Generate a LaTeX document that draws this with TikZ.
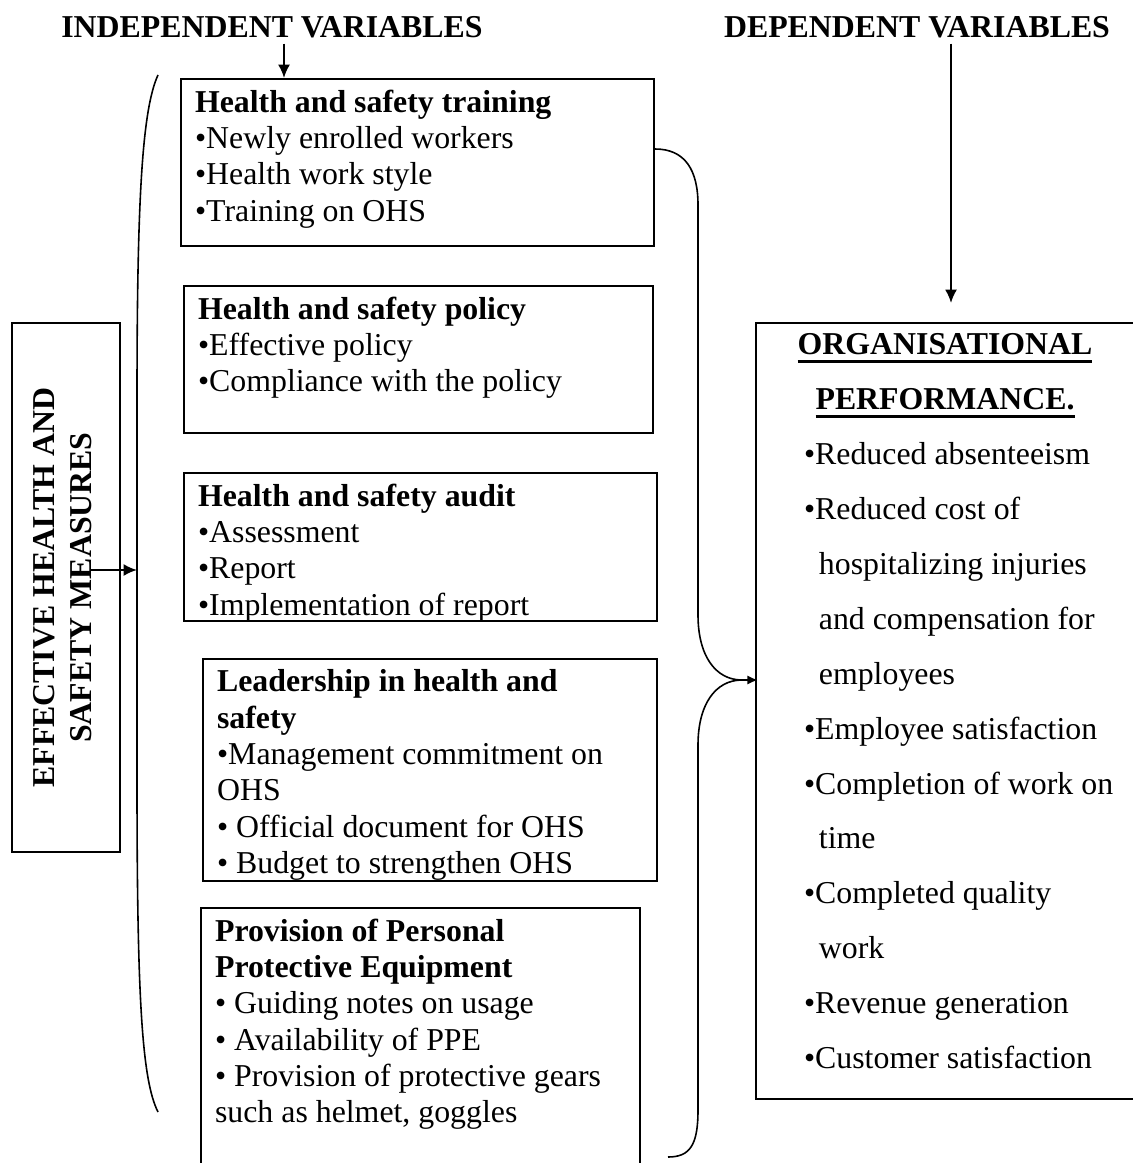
\documentclass[tikz,border=0pt]{standalone}
\usepackage{fontspec}
\setmainfont{Liberation Serif}
\usetikzlibrary{arrows.meta}

\newdimen\pxu
\pxu=0.377pt
\newcommand{\boxtext}[3]{\parbox[t][#2\pxu][t]{#1\pxu}{\raggedright #3}}
\newcommand{\orgul}[1]{\setbox0=\hbox{#1}\rlap{\rule[-3.2pt]{\wd0}{1.1pt}}\box0}

\begin{document}
\begin{tikzpicture} [
    x=\pxu, y=-\pxu,
    box/.style      = { rectangle, draw, line width=0.8pt, anchor=north west,
                        inner xsep=14\pxu, inner ysep=4pt,
                        font=\fontsize{12}{13.7}\selectfont },
    head/.style     = { font=\bfseries\fontsize{12}{14}\selectfont, inner sep=2pt },
    line/.style     = { draw, line width=0.8pt, -{Latex[length=5pt,width=4.5pt]} },
    brace/.style    = { draw, line width=0.6pt },
  ]
  \useasboundingbox (0,0) rectangle (1133,1163);

  % Define the headings
  \node[head] (indep) at (272,27) {INDEPENDENT VARIABLES};
  \node[head] (dep)   at (917,27) {DEPENDENT VARIABLES};

  % Define the boxes
  \node[box, rotate=90, anchor=center, align=center, inner sep=0pt,
        font=\bfseries\fontsize{12}{14}\selectfont,
        minimum width=529\pxu, minimum height=108\pxu] (ehsm) at (66,587.5)
        {EFFECTIVE HEALTH AND\\SAFETY MEASURES\vphantom{g}};

  \node[box] (train) at (180,78) {\boxtext{445}{146}{%
    \textbf{Health and safety training}\\
    •Newly enrolled workers\\
    •Health work style\\
    •Training on OHS}};
  \node[box] (policy) at (183,285) {\boxtext{441}{126}{%
    \textbf{Health and safety policy}\\
    •Effective policy\\
    •Compliance with the policy}};
  \node[box] (audit) at (183,472) {\boxtext{445}{127}{%
    \textbf{Health and safety audit}\\
    •Assessment\\
    •Report\\
    •Implementation of report}};
  \node[box] (lead) at (202,658) {\boxtext{426}{201}{%
    \textbf{Leadership in health and}\\
    \textbf{safety}\\
    •Management commitment on\\
    OHS\\
    • Official document for OHS\\
    • Budget to strengthen OHS}};
  \node[box] (ppe) at (200,907) {\boxtext{411}{259}{%
    \textbf{Provision of Personal}\\
    \textbf{Protective Equipment}\\
    • Guiding notes on usage\\
    • Availability of PPE\\
    • Provision of protective gears\\
    such as helmet, goggles}};

  \node[box, inner xsep=48\pxu] (org) at (755,322) {\boxtext{340}{755}{%
    \fontsize{12}{20.7}\selectfont
    \makebox[282\pxu]{\bfseries\orgul{ORGANISATIONAL}}\\
    \makebox[282\pxu]{\bfseries\orgul{PERFORMANCE.}}\\
    •Reduced absenteeism\\
    •Reduced cost of\\
    \hspace*{5.6pt}hospitalizing injuries\\
    \hspace*{5.6pt}and compensation for\\
    \hspace*{5.6pt}employees\\
    •Employee satisfaction\\
    •Completion of work on\\
    \hspace*{5.6pt}time\\
    •Completed quality\\
    \hspace*{5.6pt}work\\
    •Revenue generation\\
    •Customer satisfaction}};

  % the braces
  \coordinate (lbrace) at (137,570);
  \coordinate (tip) at (742,680);
  \coordinate (depend) at (951,303);
  \path [brace] (158,75) .. controls (142,110) and (137,200) .. (137,400)
        -- (137,780) .. controls (137,1000) and (142,1080) .. (158,1112);
  \path [brace] (655,149) .. controls (685,149) and (698,170) .. (698,205)
        -- (698,615) .. controls (698,655) and (715,680) .. (tip)
        .. controls (715,680) and (698,705) .. (698,745)
        -- (698,1110) .. controls (698,1145) and (690,1157) .. (668,1157);

  % connect the nodes
  \path [line] ([xshift=12\pxu]indep.south) -- ([xshift=12\pxu]indep.south |- train.north);
  \path [line] (dep.south -| depend) -- (depend);
  \path [line] ([xshift=24\pxu]ehsm.center |- lbrace) -- (lbrace);
  \path [line, -{Latex[length=4pt,width=3.5pt]}] (tip) -- ([xshift=3\pxu]tip -| org.west);
\end{tikzpicture}
\end{document}
